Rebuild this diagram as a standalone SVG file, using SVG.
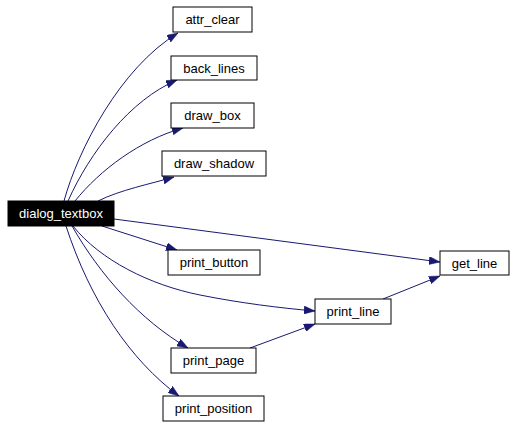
<svg xmlns="http://www.w3.org/2000/svg" width="515" height="427" viewBox="0 0 515 427">
<style>
.n rect{fill:#fff;stroke:#000;stroke-width:1}
.n text{font-family:"Liberation Sans",Arial,sans-serif;font-size:13px;fill:#000;text-anchor:middle}
#dialog_textbox rect{fill:#000}
#dialog_textbox text{fill:#fff}
.e path{fill:none;stroke:#191970;stroke-width:1;marker-end:url(#a)}
</style>
<defs>
<marker id="a" markerUnits="userSpaceOnUse" markerWidth="11" markerHeight="8" refX="11" refY="4" orient="auto">
<path d="M0,0 L11,4 L0,8 z" fill="#191970" stroke="#191970" stroke-width="0.5"/>
</marker>
</defs>
<rect width="515" height="427" fill="#fff"/>
<g class="e" id="edges">
<path d="M64,201 C78,150 120,68 178,33"/>
<path d="M68,201 C90,152 130,100 177,80"/>
<path d="M75,201 C100,170 140,140 183,128"/>
<path d="M98,201 C120,190 150,184 174,177"/>
<path d="M114,219 L440,262"/>
<path d="M102,226 L177,250"/>
<path d="M73,226 C100,260 150,285 200,295 C240,303 280,308 315,311"/>
<path d="M72,226 C100,275 140,320 188,348"/>
<path d="M66,226 C90,300 130,360 179,396"/>
<path d="M250,348 L315,324"/>
<path d="M383,299 L440,276"/>
</g>
<g class="n" id="dialog_textbox"><rect x="8" y="201" width="106" height="25"/><text x="61" y="218">dialog_textbox</text></g>
<g class="n" id="attr_clear"><rect x="173" y="7" width="79" height="25"/><text x="212.5" y="24">attr_clear</text></g>
<g class="n" id="back_lines"><rect x="171" y="56" width="86" height="24"/><text x="214" y="73">back_lines</text></g>
<g class="n" id="draw_box"><rect x="171" y="103" width="83" height="25"/><text x="212.5" y="120">draw_box</text></g>
<g class="n" id="draw_shadow"><rect x="162" y="151" width="104" height="25"/><text x="214" y="168">draw_shadow</text></g>
<g class="n" id="print_button"><rect x="168" y="250" width="92" height="25"/><text x="214" y="267">print_button</text></g>
<g class="n" id="print_page"><rect x="171" y="348" width="85" height="25"/><text x="213.5" y="365">print_page</text></g>
<g class="n" id="print_position"><rect x="163" y="396" width="101" height="25"/><text x="213.5" y="413">print_position</text></g>
<g class="n" id="get_line"><rect x="440" y="251" width="69" height="24"/><text x="474.5" y="268">get_line</text></g>
<g class="n" id="print_line"><rect x="315" y="299" width="76" height="25"/><text x="353" y="316">print_line</text></g>
</svg>
